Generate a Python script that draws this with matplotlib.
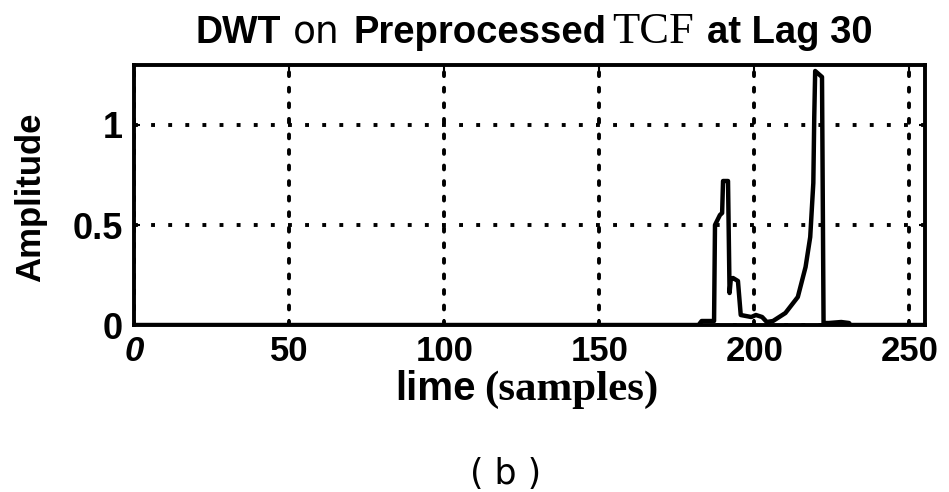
import matplotlib
matplotlib.use("Agg")
import matplotlib.pyplot as plt

# DWT trace, break points (sample index, amplitude)
sample = [0, 182, 183, 187, 187.3, 188.9, 189.6, 189.9, 191.5, 192.0, 192.4, 193.1,
          194.7, 195.6, 199.0, 200.5, 202.5, 204.0, 206.0, 207.5, 210.0, 212.0, 214.0,
          216.5, 218.0, 219.0, 219.3, 219.6, 221.8, 222.3, 224.0, 228.0, 230.5, 231.0, 255]
amplitude = [0, 0, 0.02, 0.02, 0.50, 0.55, 0.56, 0.72, 0.72, 0.16, 0.23, 0.235,
             0.22, 0.05, 0.04, 0.05, 0.04, 0.015, 0.02, 0.035, 0.06, 0.10, 0.14,
             0.29, 0.44, 0.71, 1.04, 1.27, 1.24, 0.01, 0.01, 0.015, 0.01, 0.0, 0.0]

x_ticks = [0, 50, 100, 150, 200, 250]
x_tick_labels = ["0", "50", "100", "150", "200", "250"]
y_ticks = [0, 0.5, 1]
y_tick_labels = ["0", "0.5", "1"]

SANS = "Liberation Sans"
SERIF = "Liberation Serif"

fig = plt.figure(figsize=(9.49, 4.92), dpi=100)
ax = fig.add_axes([0.1412, 0.3394, 0.8335, 0.5285])

ax.plot(sample, amplitude, color="black", lw=3.2, solid_joinstyle="round")
ax.set_xlim(0, 255)
ax.set_ylim(0, 1.3)

ax.set_xticks(x_ticks)
ax.set_xticklabels(x_tick_labels, fontsize=25, fontweight="bold", family=SANS)
ax.xaxis.get_ticklabels()[0].set_fontstyle("italic")
ax.set_yticks(y_ticks)
ax.set_yticklabels(y_tick_labels, fontsize=26, fontweight="bold", family=SANS)
ax.tick_params(axis="both", direction="in", length=4, width=1.5, color="black",
               top=True, right=True)
ax.tick_params(axis="x", pad=7)
ax.tick_params(axis="y", pad=8)

ax.xaxis.grid(True, color="black", lw=2.8, linestyle=(0, (1, 3.0)), dash_capstyle="round")
ax.yaxis.grid(True, color="black", lw=2.8, linestyle=(0, (1, 3.4)), dash_capstyle="butt")
for s in ax.spines.values():
    s.set_linewidth(2.8)
    s.set_color("black")


def mixed_text(parts, xc, y, size):
    # lay several differently styled pieces side by side, centred on xc
    r = fig.canvas.get_renderer()
    W = fig.bbox.width
    texts, gaps = [], []
    for s, gap, kw in parts:
        style = dict(fontsize=size)
        style.update(kw)
        texts.append(fig.text(0, y, s, va="baseline", ha="left", **style))
        gaps.append(gap)
    widths = [t.get_window_extent(r).width for t in texts]
    total = sum(widths) + sum(gaps[:-1])
    x = xc * W - total / 2
    for t, w, g in zip(texts, widths, gaps):
        t.set_x(x / W)
        x += w + g


fig.canvas.draw()
mixed_text([
    ("DWT", 12, dict(family=SANS, fontweight="bold", fontsize=27)),
    ("on", 14, dict(family="DejaVu Sans", fontweight="normal", fontsize=27)),
    ("Preprocessed", 5, dict(family=SANS, fontweight="bold")),
    ("TCF", 13, dict(family=SERIF, fontweight="normal", fontsize=32)),
    ("at Lag 30", 0, dict(family=SANS, fontweight="bold")),
], 534 / 949, 1 - 43 / 492, 27.5)

mixed_text([
    ("lime", 8, dict(family=SANS, fontweight="bold", fontsize=29)),
    ("(samples)", 0, dict(family=SERIF, fontweight="bold", fontsize=31)),
], 527 / 949, 1 - 400 / 492, 29)

fig.text(31 / 949, 1 - 197 / 492, "Amplitude", rotation=90, ha="center", va="center",
         fontsize=25, fontweight="bold", family=SANS)
fig.text(506 / 949, 1 - 474 / 492, "( b )", ha="center", va="center",
         fontsize=25, family="DejaVu Sans")

fig.savefig("out.png", dpi=100)
